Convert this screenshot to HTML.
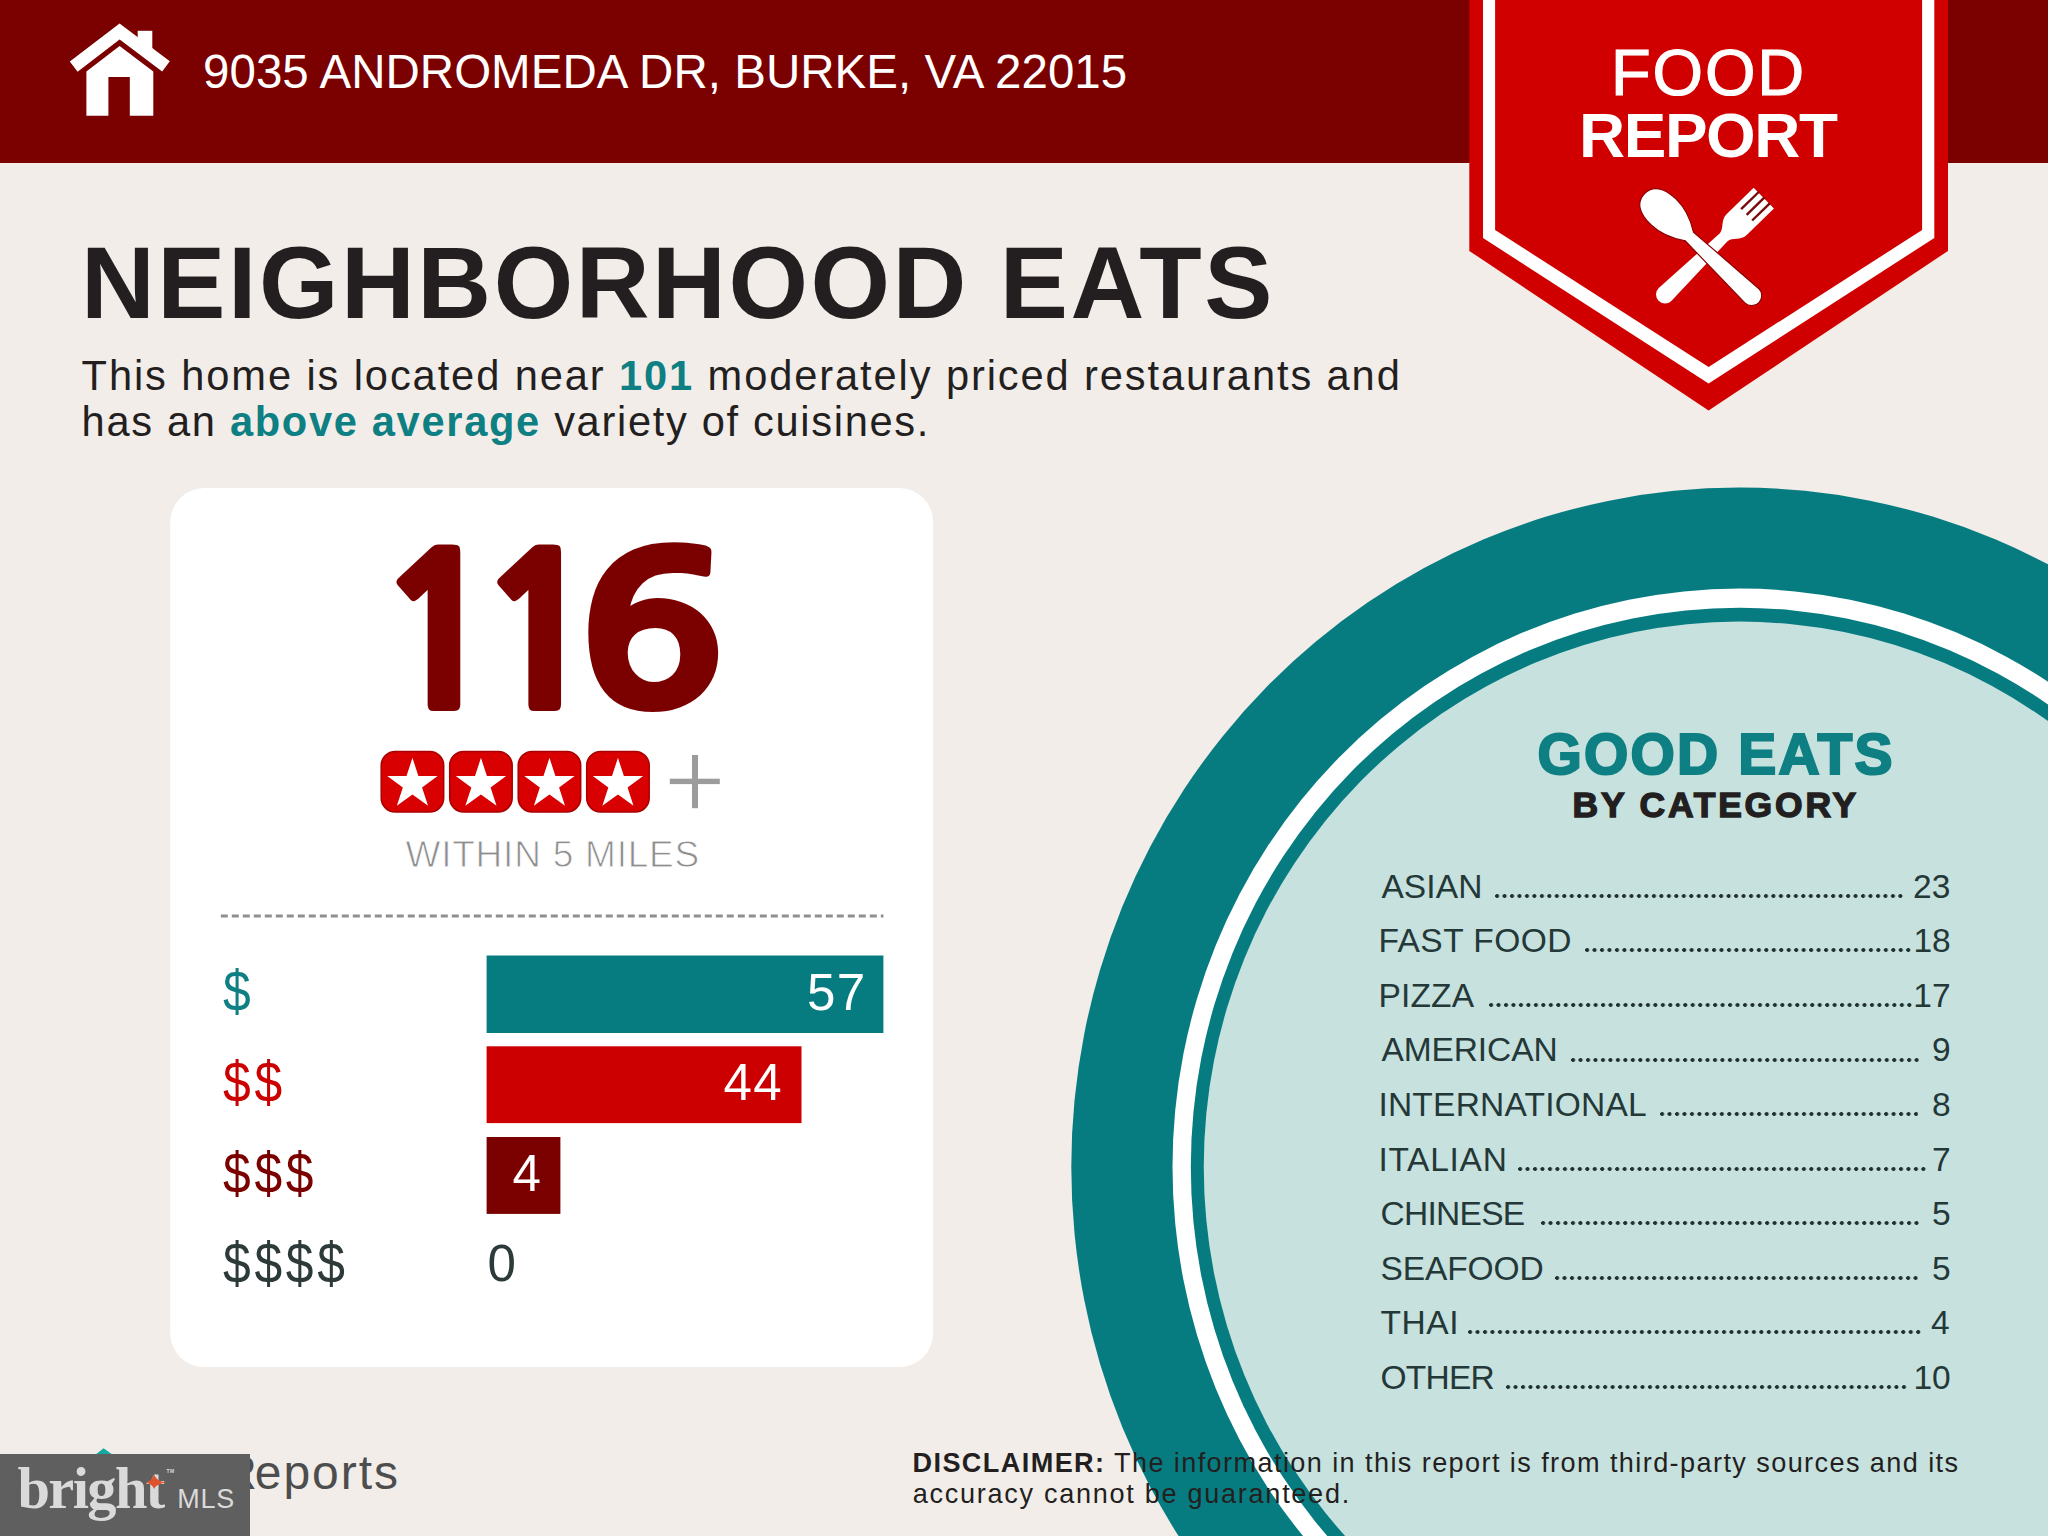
<!DOCTYPE html>
<html><head><meta charset="utf-8">
<style>
html,body{margin:0;padding:0;}
body{width:2048px;height:1536px;overflow:hidden;position:relative;background:#f2ede9;font-family:"Liberation Sans",Arial,sans-serif;}
.t{position:absolute;white-space:nowrap;line-height:1;margin:0;}
svg.bg{position:absolute;left:0;top:0;}
.dots{position:absolute;height:4.4px;background:radial-gradient(circle at 2.1px 2.2px,#1f3030 0,#1f3030 1.7px,rgba(31,48,48,0) 2.4px) 0 0/7.48px 4.4px repeat-x;}
.dl{font-size:56.50px;line-height:1;transform-origin:0 0;transform:scale(0.88,1);letter-spacing:4.3px;}
#mls{position:absolute;left:0;top:1454px;width:250px;height:82px;background:#5f5f5f;overflow:hidden;}
</style></head>
<body>
<svg class="bg" width="2048" height="1536" viewBox="0 0 2048 1536">
  <rect x="0" y="0" width="2048" height="163" fill="#7b0000"/>
  <g fill="#fff">
    <polyline points="73.7,66.6 119.6,31.5 166,66.4" fill="none" stroke="#fff" stroke-width="12.8" stroke-linejoin="miter"/>
    <rect x="137.7" y="30.8" width="14.6" height="20"/>
    <polygon points="86.4,71.4 119.6,45.9 153.3,71.4 153.3,115.7 86.4,115.7"/>
    <rect x="108.4" y="77" width="21.4" height="39" fill="#7b0000"/>
  </g>
  <ellipse cx="1739.5" cy="1166.9" rx="668.2" ry="679.3" fill="#077c80"/>
  <ellipse cx="1739.5" cy="1166.9" rx="567" ry="578.3" fill="#ffffff"/>
  <ellipse cx="1739.5" cy="1166.9" rx="548.7" ry="559.2" fill="#077c80"/>
  <ellipse cx="1739.5" cy="1166.9" rx="535.75" ry="545.3" fill="#c7e1df"/>
  <polygon points="1469.3,0 1948,0 1948,250.9 1708.6,410.6 1469.3,250.9" fill="#d10000"/>
  <polygon points="1483,0 1934.3,0 1934.3,238 1708.6,383.4 1483,238" fill="#ffffff"/>
  <polygon points="1495.1,0 1922.1,0 1922.1,230 1708.6,366.9 1495.1,230" fill="#d10000"/>
  <!-- fork -->
  <g transform="translate(1763.8,198.1) rotate(135.7)" fill="#fff">
    <path d="M0,-14.5 L38,-14.5 C46,-14.5 50,-6 56,-5.5 L138,-9 A9,9 0 0 1 138,9 L56,5.5 C50,6 46,14.5 38,14.5 L0,14.5 Z"/>
    <g stroke="#7a0a0a" stroke-width="2.4"><line x1="-1" y1="-7.9" x2="24" y2="-7.9"/><line x1="-1" y1="0" x2="24" y2="0"/><line x1="-1" y1="7.9" x2="24" y2="7.9"/></g>
  </g>
  <!-- spoon -->
  <g transform="translate(1644.4,193.8) rotate(43.5)" fill="#fff">
    <path d="M0,0 C0,-12 10,-18 26,-18 C44,-18 56,-10 62,-6 L148,-10 A10,10 0 0 1 148,10 L62,6 C56,10 44,18 26,18 C10,18 0,12 0,0 Z" stroke="#8a0000" stroke-width="1.2"/>
  </g>
  <rect x="170.2" y="488.1" width="763" height="879" rx="34" ry="34" fill="#ffffff"/>
  <line x1="220.8" y1="916.1" x2="883.5" y2="916.1" stroke="#8f8f8f" stroke-width="3" stroke-dasharray="7,4"/>
  <rect x="486.6" y="955.5" width="396.8" height="77.5" fill="#077c80"/>
  <rect x="486.6" y="1046.3" width="314.9" height="76.8" fill="#cc0000"/>
  <rect x="486.6" y="1137" width="73.8" height="76.9" fill="#7b0000"/>
  <rect x="381.20" y="751.4" width="62.5" height="60.6" rx="14" ry="14" fill="#d80000" stroke="#a80000" stroke-width="1.5"/>
  <polygon points="412.45,757.80 418.40,776.11 437.65,776.11 422.08,787.43 428.03,805.74 412.45,794.42 396.87,805.74 402.82,787.43 387.25,776.11 406.50,776.11" fill="#fff"/>
  <rect x="449.70" y="751.4" width="62.5" height="60.6" rx="14" ry="14" fill="#d80000" stroke="#a80000" stroke-width="1.5"/>
  <polygon points="480.95,757.80 486.90,776.11 506.15,776.11 490.58,787.43 496.53,805.74 480.95,794.42 465.37,805.74 471.32,787.43 455.75,776.11 475.00,776.11" fill="#fff"/>
  <rect x="518.20" y="751.4" width="62.5" height="60.6" rx="14" ry="14" fill="#d80000" stroke="#a80000" stroke-width="1.5"/>
  <polygon points="549.45,757.80 555.40,776.11 574.65,776.11 559.08,787.43 565.03,805.74 549.45,794.42 533.87,805.74 539.82,787.43 524.25,776.11 543.50,776.11" fill="#fff"/>
  <rect x="586.70" y="751.4" width="62.5" height="60.6" rx="14" ry="14" fill="#d80000" stroke="#a80000" stroke-width="1.5"/>
  <polygon points="617.95,757.80 623.90,776.11 643.15,776.11 627.58,787.43 633.53,805.74 617.95,794.42 602.37,805.74 608.32,787.43 592.75,776.11 612.00,776.11" fill="#fff"/>
  <rect x="692" y="755" width="6" height="53.2" fill="#9c9c9c"/>
  <rect x="669.8" y="778.7" width="50" height="5.4" fill="#9c9c9c"/>
</svg>
<div class="t" id="addr" style="left:203.00px;top:48.10px;font-size:47.49px;color:#fff;letter-spacing:0.042px;">9035 ANDROMEDA DR, BURKE, VA 22015</div>
<div class="t" id="food" style="left:1611.00px;top:41.32px;font-size:64.94px;color:#fff;letter-spacing:1.867px;-webkit-text-stroke:1.2px #fff;">FOOD</div>
<div class="t" id="report" style="left:1579.00px;top:103.87px;font-size:63.83px;color:#fff;font-weight:bold;letter-spacing:-1.380px;">REPORT</div>
<div class="t" id="h1" style="left:81.00px;top:232.06px;font-size:102.23px;color:#231f20;font-weight:bold;letter-spacing:2.525px;">NEIGHBORHOOD EATS</div>
<div class="t" id="p1" style="left:81.60px;top:355.37px;font-size:41.62px;color:#231f20;letter-spacing:1.900px;">This home is located near <b style="color:#0e7f82">101</b> moderately priced restaurants and</div>
<div class="t" id="p2" style="left:81.60px;top:401.47px;font-size:41.62px;color:#231f20;letter-spacing:1.683px;">has an <b style="color:#0e7f82">above average</b> variety of cuisines.</div>
<div class="t" id="n116" style="left:376.20px;top:529.41px;font-size:209.30px;color:#7b0000;font-weight:800;font-family:'NanumGothic','Liberation Sans',sans-serif;-webkit-text-stroke:4.0px #7b0000;">1<span style="margin-left:-26px">1</span><span style="margin-left:-4.3px;display:inline-block;transform:scaleX(1.19);transform-origin:100% 50%">6</span></div>
<div class="t" id="within" style="left:405.50px;top:836.47px;font-size:37.01px;color:#8e8e8e;letter-spacing:0.769px;-webkit-text-stroke:0.9px #fff;">WITHIN 5 MILES</div>
<div class="t" id="v57" style="left:807.00px;top:966.53px;font-size:51.12px;color:#fff;letter-spacing:1.400px;">57</div>
<div class="t" id="v44" style="left:723.40px;top:1057.23px;font-size:51.12px;color:#fff;letter-spacing:1.500px;">44</div>
<div class="t" id="v4" style="left:512.40px;top:1148.03px;font-size:51.12px;color:#fff;">4</div>
<div class="t" id="v0" style="left:487.60px;top:1238.03px;font-size:51.12px;color:#2d3a3a;">0</div>
<div class="t" id="good" style="left:1537.40px;top:725.96px;font-size:56.98px;color:#0e7f82;font-weight:bold;letter-spacing:2.187px;-webkit-text-stroke:2.2px #0e7f82;">GOOD EATS</div>
<div class="t" id="bycat" style="left:1572.60px;top:787.77px;font-size:35.47px;color:#231f20;font-weight:bold;letter-spacing:2.800px;-webkit-text-stroke:1.4px #231f20;">BY CATEGORY</div>
<div class="t" id="disc1" style="left:912.50px;top:1448.96px;font-size:27.09px;color:#231f20;letter-spacing:1.410px;"><b>DISCLAIMER:</b> The information in this report is from third-party sources and its</div>
<div class="t" id="disc2" style="left:912.80px;top:1480.06px;font-size:27.09px;color:#231f20;letter-spacing:1.707px;">accuracy cannot be guaranteed.</div>
<div class="t" id="ln0" style="left:1381.40px;top:869.73px;font-size:33.52px;color:#243838;letter-spacing:0.100px;">ASIAN</div>
<div class="t" id="lv0" style="left:1913.00px;top:869.73px;font-size:33.52px;color:#243838;">23</div>
<div class="t" id="ln1" style="left:1378.40px;top:924.31px;font-size:33.52px;color:#243838;letter-spacing:0.475px;">FAST FOOD</div>
<div class="t" id="lv1" style="left:1913.40px;top:924.31px;font-size:33.52px;color:#243838;">18</div>
<div class="t" id="ln2" style="left:1378.40px;top:978.89px;font-size:33.52px;color:#243838;letter-spacing:0.175px;">PIZZA</div>
<div class="t" id="lv2" style="left:1913.30px;top:978.89px;font-size:33.52px;color:#243838;">17</div>
<div class="t" id="ln3" style="left:1381.40px;top:1033.47px;font-size:33.52px;color:#243838;letter-spacing:-0.100px;">AMERICAN</div>
<div class="t" id="lv3" style="left:1932.10px;top:1033.47px;font-size:33.52px;color:#243838;">9</div>
<div class="t" id="ln4" style="left:1378.40px;top:1088.05px;font-size:33.52px;color:#243838;letter-spacing:0.225px;">INTERNATIONAL</div>
<div class="t" id="lv4" style="left:1932.10px;top:1088.05px;font-size:33.52px;color:#243838;">8</div>
<div class="t" id="ln5" style="left:1378.40px;top:1142.63px;font-size:33.52px;color:#243838;letter-spacing:0.717px;">ITALIAN</div>
<div class="t" id="lv5" style="left:1932.00px;top:1142.63px;font-size:33.52px;color:#243838;">7</div>
<div class="t" id="ln6" style="left:1380.40px;top:1197.21px;font-size:33.52px;color:#243838;letter-spacing:-0.700px;">CHINESE</div>
<div class="t" id="lv6" style="left:1932.00px;top:1197.21px;font-size:33.52px;color:#243838;">5</div>
<div class="t" id="ln7" style="left:1380.40px;top:1251.79px;font-size:33.52px;color:#243838;letter-spacing:-0.100px;">SEAFOOD</div>
<div class="t" id="lv7" style="left:1932.00px;top:1251.79px;font-size:33.52px;color:#243838;">5</div>
<div class="t" id="ln8" style="left:1380.40px;top:1306.37px;font-size:33.52px;color:#243838;letter-spacing:0.633px;">THAI</div>
<div class="t" id="lv8" style="left:1931.00px;top:1306.37px;font-size:33.52px;color:#243838;">4</div>
<div class="t" id="ln9" style="left:1380.40px;top:1360.95px;font-size:33.52px;color:#243838;letter-spacing:-0.750px;">OTHER</div>
<div class="t" id="lv9" style="left:1913.40px;top:1360.95px;font-size:33.52px;color:#243838;">10</div>
<div class="dots" style="left:1495.4px;top:893.8px;width:407.9px;"></div>
<div class="dots" style="left:1585.4px;top:948.4px;width:325.6px;"></div>
<div class="dots" style="left:1488.7px;top:1003.0px;width:422.9px;"></div>
<div class="dots" style="left:1570.7px;top:1057.5px;width:348.1px;"></div>
<div class="dots" style="left:1660.0px;top:1112.1px;width:258.3px;"></div>
<div class="dots" style="left:1518.0px;top:1166.7px;width:407.9px;"></div>
<div class="dots" style="left:1540.5px;top:1221.3px;width:378.0px;"></div>
<div class="dots" style="left:1555.2px;top:1275.9px;width:363.0px;"></div>
<div class="dots" style="left:1468.2px;top:1330.4px;width:452.8px;"></div>
<div class="dots" style="left:1506.2px;top:1385.0px;width:400.4px;"></div>
<div class="t dl" id="dl0" style="left:223.40px;top:964.40px;color:#0e7f82;">$</div>
<div class="t dl" id="dl1" style="left:223.40px;top:1055.00px;color:#cc0000;">$$</div>
<div class="t dl" id="dl2" style="left:223.40px;top:1145.60px;color:#7b0000;">$$$</div>
<div class="t dl" id="dl3" style="left:223.40px;top:1236.20px;color:#2d3a3a;">$$$$</div>

<svg style="position:absolute;left:0;top:0" width="2048" height="1536"><polygon points="95,1455 103.6,1448.2 113,1455" fill="#14a89e"/></svg>
<div class="t" style="left:222.18px;top:1449.17px;font-size:48.00px;color:#4d4d4d;">R</div>
<div class="t" id="eports" style="left:254.80px;top:1449.17px;font-size:48.00px;color:#4d4d4d;letter-spacing:1.960px;">eports</div>
<div id="mls"></div>
<div class="t" id="bright" style="left:17.40px;top:1460.11px;font-size:58.50px;color:#dadada;font-weight:bold;letter-spacing:-1.620px;font-family:'Liberation Serif',serif;">bright</div>
<div class="t" id="mlstxt" style="left:177.20px;top:1486.08px;font-size:26.96px;color:#dadada;letter-spacing:0.750px;">MLS</div>
<div class="t" id="tm" style="left:166.60px;top:1468.94px;font-size:5.03px;color:#dadada;font-weight:bold;letter-spacing:0.300px;">TM</div>
<svg style="position:absolute;left:0;top:0" width="2048" height="1536"><path d="M154.1,1474.3 Q155.6,1481 166,1482.5 Q155.6,1484 154.1,1489 Q152.6,1484 145.5,1482.5 Q152.6,1481 154.1,1474.3 Z" fill="#e0522a"/></svg>

</body></html>
